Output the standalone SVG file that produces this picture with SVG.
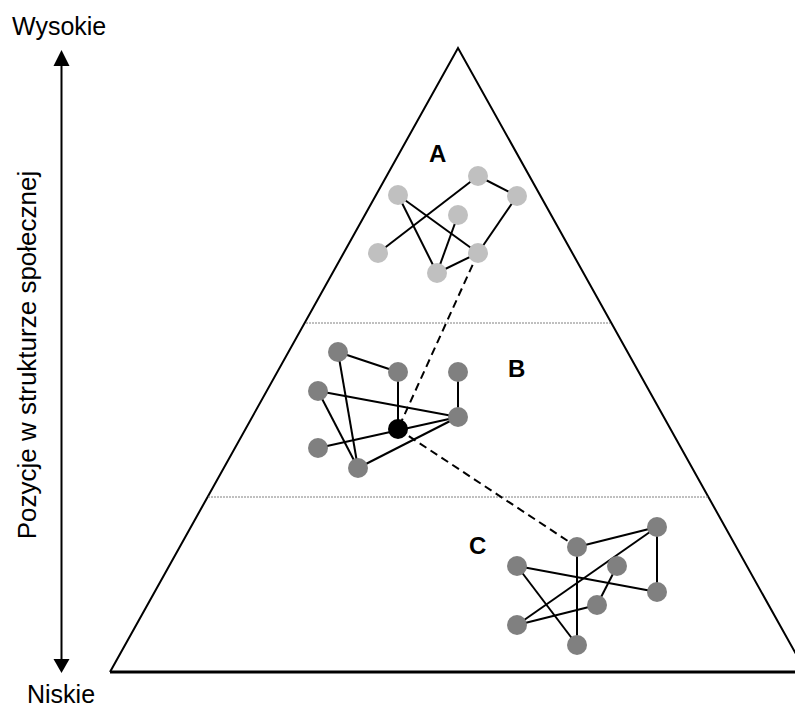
<svg xmlns="http://www.w3.org/2000/svg" width="795" height="709" viewBox="0 0 795 709">
<style>
.txt{font-family:"Liberation Sans",Arial,sans-serif;fill:#000}
.lbl{font-family:"Liberation Sans",Arial,sans-serif;font-weight:bold;font-size:24px;fill:#000}
.edge{stroke:#000;stroke-width:2;fill:none}
.dash{stroke:#000;stroke-width:2;stroke-dasharray:8,5;fill:none}
.lt{fill:#c0c0c0}
.dk{fill:#808080}
.bk{fill:#000}
</style>
<rect width="795" height="709" fill="#fff"/>
<g id="pyramid">
<polyline points="110,672 458,48 806,672" fill="none" stroke="#000" stroke-width="2"/>
<line x1="110" y1="672" x2="795" y2="672" stroke="#000" stroke-width="3"/>
<line x1="306" y1="323" x2="610" y2="323" stroke="#808080" stroke-width="1" stroke-dasharray="2,1"/>
<line x1="208" y1="497" x2="708" y2="497" stroke="#808080" stroke-width="1" stroke-dasharray="2,1"/>
</g>
<g id="axis">
<line x1="61.5" y1="64" x2="61.5" y2="661" stroke="#000" stroke-width="2"/>
<polygon points="61.5,50 53.5,66 69.5,66" fill="#000"/>
<polygon points="61.5,673 53.5,659 69.5,659" fill="#000"/>
<text class="txt" x="12" y="35" font-size="25">Wysokie</text>
<text class="txt" x="27" y="703" font-size="25">Niskie</text>
<text class="txt" font-size="26" text-anchor="middle" transform="translate(36,355) rotate(-90)">Pozycje w strukturze społecznej</text>
</g>
<g id="connectors">
<line class="edge" x1="398" y1="195" x2="437" y2="273"/>
<line class="edge" x1="398" y1="195" x2="478" y2="253"/>
<line class="edge" x1="378" y1="253" x2="478" y2="176"/>
<line class="edge" x1="478" y1="176" x2="517" y2="196"/>
<line class="edge" x1="517" y1="196" x2="478" y2="253"/>
<line class="edge" x1="458" y1="215" x2="437" y2="273"/>
<line class="edge" x1="437" y1="273" x2="478" y2="253"/>
<line class="edge" x1="338" y1="352" x2="398" y2="372"/>
<line class="edge" x1="338" y1="352" x2="358" y2="468"/>
<line class="edge" x1="318" y1="391" x2="358" y2="468"/>
<line class="edge" x1="318" y1="391" x2="458" y2="417"/>
<line class="edge" x1="398" y1="372" x2="398" y2="429"/>
<line class="edge" x1="458" y1="372" x2="458" y2="417"/>
<line class="edge" x1="318" y1="448" x2="458" y2="417"/>
<line class="edge" x1="358" y1="468" x2="458" y2="417"/>
<line class="edge" x1="577" y1="547" x2="657" y2="527"/>
<line class="edge" x1="657" y1="527" x2="517" y2="625"/>
<line class="edge" x1="657" y1="527" x2="657" y2="592"/>
<line class="edge" x1="517" y1="566" x2="657" y2="592"/>
<line class="edge" x1="617" y1="566" x2="597" y2="605"/>
<line class="edge" x1="597" y1="605" x2="517" y2="625"/>
<line class="edge" x1="577" y1="547" x2="577" y2="645"/>
<line class="edge" x1="517" y1="566" x2="577" y2="645"/>
<line class="dash" x1="478" y1="253" x2="398" y2="429"/>
<line class="dash" x1="398" y1="429" x2="577" y2="547"/>
</g>
<g id="clusterA">
<text class="lbl" x="429" y="162">A</text>
<circle id="a1" class="lt" cx="478" cy="176" r="10"/>
<circle id="a2" class="lt" cx="517" cy="196" r="10"/>
<circle id="a3" class="lt" cx="398" cy="195" r="10"/>
<circle id="a4" class="lt" cx="458" cy="215" r="10"/>
<circle id="a5" class="lt" cx="378" cy="253" r="10"/>
<circle id="a6" class="lt" cx="478" cy="253" r="10"/>
<circle id="a7" class="lt" cx="437" cy="273" r="10"/>
</g>
<g id="clusterB">
<text class="lbl" x="508" y="377">B</text>
<circle id="b1" class="dk" cx="338" cy="352" r="10"/>
<circle id="b2" class="dk" cx="398" cy="372" r="10"/>
<circle id="b3" class="dk" cx="458" cy="372" r="10"/>
<circle id="b4" class="dk" cx="318" cy="391" r="10"/>
<circle id="b5" class="dk" cx="458" cy="417" r="10"/>
<circle id="b6" class="dk" cx="318" cy="448" r="10"/>
<circle id="b7" class="dk" cx="358" cy="468" r="10"/>
<circle id="bx" class="bk" cx="398" cy="429" r="10"/>
</g>
<g id="clusterC">
<text class="lbl" x="469" y="554">C</text>
<circle id="c1" class="dk" cx="657" cy="527" r="10"/>
<circle id="c2" class="dk" cx="577" cy="547" r="10"/>
<circle id="c3" class="dk" cx="517" cy="566" r="10"/>
<circle id="c4" class="dk" cx="617" cy="566" r="10"/>
<circle id="c5" class="dk" cx="657" cy="592" r="10"/>
<circle id="c6" class="dk" cx="597" cy="605" r="10"/>
<circle id="c7" class="dk" cx="517" cy="625" r="10"/>
<circle id="c8" class="dk" cx="577" cy="645" r="10"/>
</g>
</svg>
